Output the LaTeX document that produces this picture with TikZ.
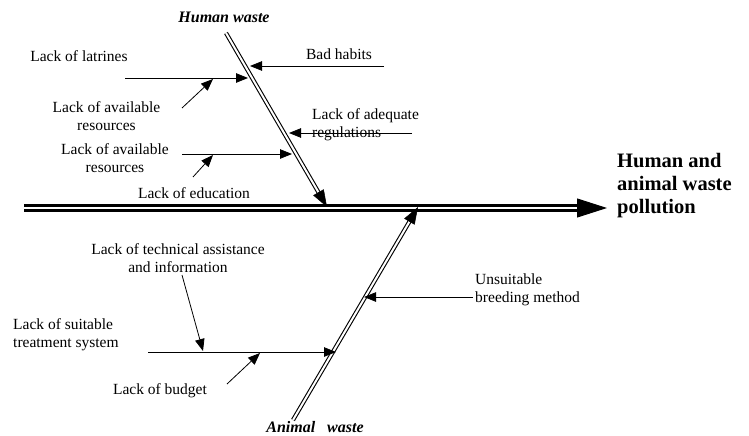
\documentclass[tikz,border=0pt]{standalone}
\usepackage{fontspec}
\setmainfont{Liberation Serif}
\usetikzlibrary{arrows.meta,calc}
\begin{document}
\begin{tikzpicture}[x=1pt,y=-1pt,
  lbl/.style={font=\fontsize{15.5}{18}\selectfont, inner sep=0pt, align=center},
  lbll/.style={lbl, align=left, anchor=west},
  ttl/.style={font=\fontsize{16}{18}\selectfont\bfseries\itshape, inner sep=0pt},
  res/.style={font=\fontsize{20.5}{23}\selectfont\bfseries, inner sep=0pt, align=left, anchor=west},
  arr/.style={line width=0.8pt, -{Triangle[length=12pt,width=9.5pt]}},
  bone/.style={line width=1.1pt, double, double distance=2pt},
  bonetip/.style={line width=0.5pt, -{Triangle[length=17pt,width=12pt]}},
  spine/.style={line width=2.7pt, double, double distance=2.5pt},
  spinetip/.style={line width=1pt, -{Triangle[length=30pt,width=19pt]}}]
\useasboundingbox (0,0) rectangle (749,436);

% main spine
\coordinate (sps) at (24,208);
\coordinate (spt) at (607,208);
\draw[spine] (sps) -- ($(spt)+(-29,0)$);
\draw[spinetip] ($(spt)+(-28,0)$) -- (spt);

% bones
\coordinate (hwtop) at (226,33);
\coordinate (hwtip) at (327,207);
\draw[bone] (hwtop) -- ($(hwtip)!16pt!(hwtop)$);
\draw[bonetip] ($(hwtip)!15pt!(hwtop)$) -- (hwtip);

\coordinate (awbot) at (293,420);
\coordinate (awtip) at (418,207);
\draw[bone] (awbot) -- ($(awtip)!16pt!(awbot)$);
\draw[bonetip] ($(awtip)!15pt!(awbot)$) -- (awtip);

% labels
\node[ttl] (hw) at (224,17) {Human waste};
\node[ttl] (aw) at (315,427) {Animal\hspace{12pt}waste};
\node[res] (out) at (617,186) {Human and\\animal waste\\pollution};

\node[lbl] (lat) at (79,56) {Lack of latrines};
\node[lbl] (bad) at (339,54) {Bad habits};
\node[lbl] (av1) at (106.5,116) {Lack of available\\resources};
\node[lbll] (reg) at (312,125) {Lack of adequate\\regulations};
\node[lbl] (av2) at (115,158) {Lack of available\\resources};
\node[lbl] (edu) at (194,193) {Lack of education};
\node[lbl] (tec) at (178,258) {Lack of technical assistance\\and information};
\node[lbll] (uns) at (475,290) {Unsuitable\\breeding method};
\node[lbll] (sui) at (13,335) {Lack of suitable\\treatment system};
\node[lbl] (bud) at (160,391) {Lack of budget};

% cause arrows
\coordinate (latS) at (125,78);  \coordinate (latE) at (248,78);
\draw[arr] (latS) -- (latE);
\coordinate (d1S) at (182,108); \coordinate (d1E) at (213,79);
\draw[arr] (d1S) -- (d1E);
\coordinate (badS) at (384,66); \coordinate (badE) at (250,66);
\draw[arr] (badS) -- (badE);
\coordinate (regS) at (412,133); \coordinate (regE) at (289,133);
\draw[arr] (regS) -- (regE);
\coordinate (av2S) at (182,154); \coordinate (av2E) at (292,154);
\draw[arr] (av2S) -- (av2E);
\coordinate (d2S) at (193,177); \coordinate (d2E) at (213,155);
\draw[arr] (d2S) -- (d2E);
\coordinate (unsS) at (473,297); \coordinate (unsE) at (364,297);
\draw[arr] (unsS) -- (unsE);
\coordinate (tecS) at (182,275); \coordinate (tecE) at (203,351);
\draw[arr] (tecS) -- (tecE);
\coordinate (trS) at (148,352); \coordinate (trE) at (336,352);
\draw[arr] (trS) -- (trE);
\coordinate (budS) at (227,384); \coordinate (budE) at (260,353);
\draw[arr] (budS) -- (budE);
\end{tikzpicture}
\end{document}
